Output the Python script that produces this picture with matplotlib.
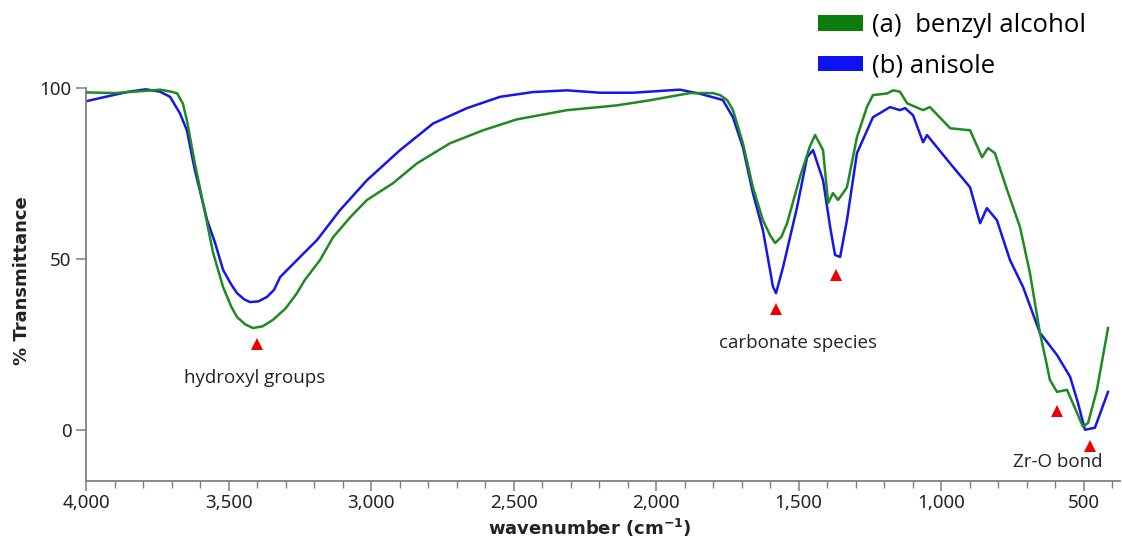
import matplotlib
matplotlib.use("Agg")
import matplotlib.pyplot as plt
from matplotlib.patches import Patch
from matplotlib.ticker import MultipleLocator, FuncFormatter

# ---- data ----
wn_a = [3995, 3900, 3800, 3740, 3700, 3680, 3660, 3646, 3618, 3582, 3554, 3519, 3490, 3470,
        3440, 3414, 3380, 3344, 3300, 3260, 3232, 3179, 3133, 3070, 3014, 2923, 2839, 2723,
        2607, 2488, 2312, 2137, 2021, 1881, 1800, 1775, 1750, 1730, 1695, 1660, 1625, 1600,
        1582, 1560, 1540, 1495, 1460, 1442, 1414, 1396, 1379, 1361, 1330, 1295, 1260, 1239,
        1189, 1168, 1144, 1119, 1063, 1039, 968, 898, 856, 835, 811, 768, 723, 688, 653, 630,
        618, 593, 558, 523, 502, 484, 453, 414]
tr_a = [98.8, 98.6, 99.2, 99.6, 99.0, 98.5, 95.5, 90.6, 78.0, 63.4, 51.8, 41.8, 36.0, 33.0,
        30.8, 29.8, 30.3, 32.2, 35.5, 40.0, 43.9, 49.7, 56.4, 62.5, 67.3, 72.2, 78.0, 83.9,
        87.7, 90.9, 93.6, 95.0, 96.5, 98.6, 98.6, 98.0, 96.5, 93.6, 83.9, 71.0, 61.4, 57.0,
        54.7, 56.5, 60.5, 74.0, 83.0, 86.3, 81.9, 66.4, 69.3, 67.3, 71.0, 85.7, 94.5, 98.0,
        98.5, 99.4, 99.0, 95.6, 93.6, 94.5, 88.3, 87.7, 79.8, 82.5, 81.0, 70.2, 59.4, 45.9,
        28.4, 19.5, 14.6, 11.1, 11.7, 5.0, 0.9, 2.0, 11.7, 29.8]

wn_b = [3995, 3905, 3850, 3790, 3740, 3705, 3670, 3646, 3618, 3575, 3547, 3519, 3490, 3470,
        3445, 3425, 3395, 3365, 3340, 3319, 3249, 3189, 3109, 3014, 2898, 2782, 2663, 2547,
        2432, 2312, 2196, 2081, 1916, 1846, 1775, 1765, 1730, 1695, 1660, 1625, 1600, 1590,
        1579, 1554, 1505, 1470, 1449, 1414, 1389, 1372, 1354, 1330, 1295, 1239, 1179, 1144,
        1126, 1098, 1063, 1049, 968, 898, 863, 839, 804, 758, 712, 653, 593, 547, 520, 495,
        460, 414]
tr_b = [96.3, 98.0, 99.0, 99.7, 99.0, 97.5, 92.6, 87.7, 76.0, 61.4, 54.7, 46.8, 42.5, 40.0,
        38.2, 37.4, 37.6, 38.9, 41.0, 44.7, 50.6, 55.6, 64.3, 73.1, 81.9, 89.7, 94.2, 97.5,
        98.9, 99.4, 98.7, 98.7, 99.6, 98.4, 96.8, 96.5, 91.5, 82.7, 69.3, 58.5, 46.8, 42.0,
        40.0, 47.7, 65.2, 79.8, 81.9, 73.1, 59.4, 51.2, 50.6, 61.4, 81.0, 91.5, 94.5, 93.6,
        94.2, 92.1, 84.2, 86.3, 78.0, 71.0, 60.5, 64.9, 61.4, 49.7, 41.8, 28.4, 21.9, 15.5,
        8.0, 0.0, 0.6, 11.1]

marker_wn = [3400, 1580, 1368, 593, 477]
marker_tr = [25.1, 35.4, 45.3, 5.6, -4.7]

labels = ["hydroxyl groups", "carbonate species", "Zr-O bond"]
label_wn = [3407, 1502, 590]
label_tr = [15.2, 25.4, -9.4]

series_names = ["(a)  benzyl alcohol", "(b) anisole"]
x_ticks = [4000, 3500, 3000, 2500, 2000, 1500, 1000, 500]
y_ticks = [0, 50, 100]

# ---- figure ----
W, H = 1122, 541
fig = plt.figure(figsize=(W / 100, H / 100), dpi=100)
ax = fig.add_axes([86 / W, 1 - 481 / H, (1120 - 86) / W, (481 - 20) / H])

green = "#1f8a1f"
blue = "#1515f0"
ax.plot(wn_a, tr_a, color=green, lw=1.8, zorder=3)
ax.plot(wn_b, tr_b, color=blue, lw=1.8, zorder=2)

ax.plot(marker_wn, marker_tr, linestyle="none", marker="^", color="#ee0000",
        markersize=8, markeredgewidth=0, zorder=4)
for t, xw, yv in zip(labels, label_wn, label_tr):
    ax.text(xw, yv, t, ha="center", va="center", fontsize=13.5,
            family="Open Sans", color="#222222")

ax.set_xlim(4000, 372)
ax.set_ylim(-15, 120)
ax.set_xticks(x_ticks)
ax.set_yticks(y_ticks)
ax.xaxis.set_minor_locator(MultipleLocator(100))
ax.xaxis.set_major_formatter(FuncFormatter(lambda v, p: f"{int(v):,}"))

for s in ["top", "right"]:
    ax.spines[s].set_visible(False)
for s in ["left", "bottom"]:
    ax.spines[s].set_color("#808080")
    ax.spines[s].set_linewidth(1.3)
ax.spines["left"].set_bounds(-15, 100)
ax.tick_params(axis="both", which="major", length=7, width=1.1, color="#808080",
               labelsize=13.5, labelcolor="#222222")
ax.tick_params(axis="x", which="major", pad=2)
ax.tick_params(axis="x", which="minor", length=5, width=1.0, color="#808080")
for lab in ax.get_xticklabels() + ax.get_yticklabels():
    lab.set_family("Noto Sans")

fig.text(22 / W, 1 - 281 / H, "% Transmittance", rotation=90, ha="center", va="center",
         fontsize=13, fontweight="bold", family="DejaVu Sans", color="#222222")
fig.text(590 / W, 1 - 528 / H, "wavenumber (cm$^{\\mathbf{-1}}$)", ha="center", va="center",
         fontsize=13, fontweight="bold", family="DejaVu Sans", color="#222222")

handles = [Patch(facecolor="#0a7d0a", edgecolor="none"),
           Patch(facecolor="#1010f5", edgecolor="none")]
fig.legend(handles, series_names, loc="upper left", bbox_to_anchor=(818 / W, 1 - 13 / H),
           frameon=False, prop={"family": "Open Sans", "size": 18.5},
           handlelength=1.75, handleheight=0.55, handletextpad=0.35, labelspacing=0.6,
           borderaxespad=0, borderpad=0)

fig.savefig("out.png", dpi=100)
